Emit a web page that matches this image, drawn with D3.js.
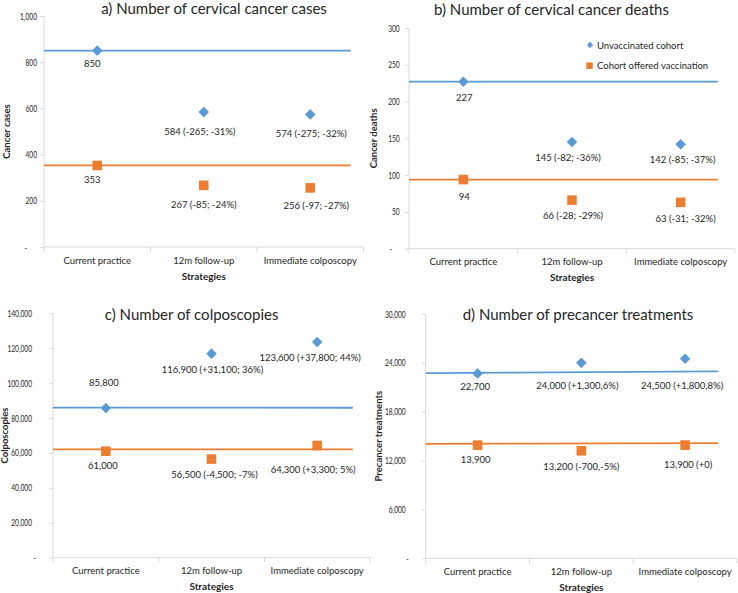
<!DOCTYPE html>
<html><head><meta charset="utf-8">
<script src="https://cdn.jsdelivr.net/npm/d3@7"></script>
<style>
body{margin:0;background:#fff}
svg{display:block}
text{font-family: Lato, "Open Sans", sans-serif; fill:#262626}
</style>
</head><body>
<svg id="chart" width="738" height="593"></svg>
<script>
// ---------------- DATA ----------------
const categories = ["Current practice", "12m follow-up", "Immediate colposcopy"];
const seriesNames = ["Unvaccinated cohort", "Cohort offered vaccination"];

const casesUnvacc = [850, 584, 574];
const casesVacc = [353, 267, 256];
const casesUnvaccLabels = ["850", "584 (-265; -31%)", "574 (-275; -32%)"];
const casesVaccLabels = ["353", "267 (-85; -24%)", "256 (-97; -27%)"];
const casesRefUnvacc = [850, 850];
const casesRefVacc = [353, 353];
const casesTicks = [0, 200, 400, 600, 800, 1000];

const deathsUnvacc = [227, 145, 142];
const deathsVacc = [94, 66, 63];
const deathsUnvaccLabels = ["227", "145 (-82; -36%)", "142 (-85; -37%)"];
const deathsVaccLabels = ["94", "66 (-28; -29%)", "63 (-31; -32%)"];
const deathsRefUnvacc = [227, 227];
const deathsRefVacc = [94, 94];
const deathsTicks = [0, 50, 100, 150, 200, 250, 300];

const colpUnvacc = [85800, 116900, 123600];
const colpVacc = [61000, 56500, 64300];
const colpUnvaccLabels = ["85,800", "116,900 (+31,100; 36%)", "123,600 (+37,800; 44%)"];
const colpVaccLabels = ["61,000", "56,500 (-4,500; -7%)", "64,300 (+3,300; 5%)"];
const colpRefUnvacc = [86000, 85900];
const colpRefVacc = [62100, 62100];
const colpTicks = [0, 20000, 40000, 60000, 80000, 100000, 120000, 140000];

const treatUnvacc = [22700, 24000, 24500];
const treatVacc = [13900, 13200, 13900];
const treatUnvaccLabels = ["22,700", "24,000 (+1,300,6%)", "24,500 (+1,800,8%)"];
const treatVaccLabels = ["13,900", "13,200 (-700,-5%)", "13,900 (+0)"];
const treatRefUnvacc = [22750, 22950];
const treatRefVacc = [14050, 14150];
const treatTicks = [0, 6000, 12000, 18000, 24000, 30000];

// ---------------- LAYOUT ----------------
const BLUE = "#5b9bd5", ORANGE = "#ed7d31", AXIS = "#d9d9d9";
const FONT_TITLE = 15, FONT_TICK = 9.5, TICK_SX = 0.7, FONT_LABEL = 9.5, FONT_CAT = 9.5,
      FONT_XTITLE = 10, FONT_YTITLE = 9.5;

const panels = [
  { title: "a) Number of cervical cancer cases", yTitle: "Cancer cases",
    unv: casesUnvacc, vac: casesVacc, unvL: casesUnvaccLabels, vacL: casesVaccLabels,
    refU: casesRefUnvacc, refV: casesRefVacc, ticks: casesTicks,
    x0: 44, x1: 363.5, yTop: 16, yBot: 247, lineFrac: 0.96, tickGap: 7,
    titleX: 214, titleY: 8, yTitleX: 6,
    offU: [[-5, 13], [-4, 19], [1, 19]], offV: [[-5, 14], [0, 19], [6, 18]] },
  { title: "b) Number of cervical cancer deaths", yTitle: "Cancer deaths",
    unv: deathsUnvacc, vac: deathsVacc, unvL: deathsUnvaccLabels, vacL: deathsVaccLabels,
    refU: deathsRefUnvacc, refV: deathsRefVacc, ticks: deathsTicks,
    x0: 409, x1: 735, yTop: 28, yBot: 248.7, lineFrac: 0.947, tickGap: 9.3,
    titleX: 551.5, titleY: 8.5, yTitleX: 373, legend: true,
    offU: [[1, 15.5], [-4, 15], [2, 15]], offV: [[1, 17], [1, 15.7], [5, 15.7]] },
  { title: "c) Number of colposcopies", yTitle: "Colposcopies",
    unv: colpUnvacc, vac: colpVacc, unvL: colpUnvaccLabels, vacL: colpVaccLabels,
    refU: colpRefUnvacc, refV: colpRefVacc, ticks: colpTicks,
    x0: 53, x1: 370, yTop: 313.3, yBot: 557.7, lineFrac: 0.946, tickGap: 21,
    titleX: 191.7, titleY: 313.5, yTitleX: 4.5,
    offU: [[-2, -25], [1, 16.3], [-7, 15.6]], offV: [[-3, 14.3], [3, 15], [-4, 24.3]] },
  { title: "d) Number of precancer treatments", yTitle: "Precancer treatments",
    unv: treatUnvacc, vac: treatVacc, unvL: treatUnvaccLabels, vacL: treatVaccLabels,
    refU: treatRefUnvacc, refV: treatRefVacc, ticks: treatTicks,
    x0: 425.7, x1: 737, yTop: 314, yBot: 558.3, lineFrac: 0.939, tickGap: 20,
    titleX: 578, titleY: 313.5, yTitleX: 378,
    offU: [[-2.5, 13], [-4, 22.3], [-3, 27]], offV: [[-2, 14], [0, 15.7], [3, 19]] }
];

const svg = d3.select("#chart");
const fmt = d3.format(",");

panels.forEach(p => {
  const g = svg.append("g");
  const x = d3.scaleBand().domain(categories).range([p.x0, p.x1]).padding(0);
  const y = d3.scaleLinear().domain([0, d3.max(p.ticks)]).range([p.yBot, p.yTop]);

  // y axis
  const yAxis = d3.axisLeft(y).tickValues(p.ticks).tickSize(4)
    .tickFormat(d => d === 0 ? "-" : fmt(d));
  const ya = g.append("g").attr("transform", `translate(${p.x0},0)`).call(yAxis);
  ya.select(".domain").attr("stroke", AXIS).attr("d", `M0,${p.yBot}V${p.yTop}`);
  ya.selectAll(".tick line").attr("stroke", AXIS);
  ya.selectAll(".tick text").attr("font-size", FONT_TICK).attr("font-family", "Lato")
    .attr("fill", "#262626")
    .attr("transform", `scale(${TICK_SX},1)`)
    .attr("x", d => (d === 0 ? -17 : -p.tickGap) / TICK_SX);

  // x axis
  const xAxis = d3.axisBottom(x).tickSize(0);
  const xa = g.append("g").attr("transform", `translate(0,${p.yBot})`).call(xAxis);
  xa.select(".domain").attr("stroke", AXIS).attr("d", `M${p.x0},0H${p.x1}`);
  xa.selectAll(".tick text").attr("font-size", FONT_CAT).attr("font-family", "Lato")
    .attr("fill", "#262626").attr("dy", null).attr("y", 13.3).attr("dominant-baseline", "central");
  // category boundary ticks
  const bounds = categories.map(c => x(c)).concat([p.x1]);
  g.selectAll(".bt").data(bounds).enter().append("line")
    .attr("x1", d => d).attr("x2", d => d).attr("y1", p.yBot).attr("y2", p.yBot + 5)
    .attr("stroke", AXIS);

  // reference lines
  const lx1 = p.x0 + (p.x1 - p.x0) * p.lineFrac;
  [[p.refU, BLUE], [p.refV, ORANGE]].forEach(([r, col]) => {
    g.append("line").attr("x1", p.x0).attr("x2", lx1)
      .attr("y1", y(r[0])).attr("y2", y(r[1]))
      .attr("stroke", col).attr("stroke-width", 1.8);
  });

  const cx = c => x(c) + x.bandwidth() / 2;

  // markers
  g.selectAll(".dm").data(p.unv).enter().append("path")
    .attr("d", d3.symbol().type(d3.symbolSquare).size(56)())
    .attr("transform", (d, i) => `translate(${cx(categories[i])},${y(d)}) rotate(45)`)
    .attr("fill", BLUE);
  g.selectAll(".sq").data(p.vac).enter().append("path")
    .attr("d", d3.symbol().type(d3.symbolSquare).size(92)())
    .attr("transform", (d, i) => `translate(${cx(categories[i])},${y(d)})`)
    .attr("fill", ORANGE);

  // data labels
  const lab = (vals, labels, offs) => {
    g.selectAll(null).data(vals).enter().append("text")
      .attr("x", (d, i) => cx(categories[i]) + offs[i][0])
      .attr("y", (d, i) => y(d) + offs[i][1])
      .attr("text-anchor", "middle").attr("dominant-baseline", "central")
      .attr("font-size", FONT_LABEL)
      .text((d, i) => labels[i]);
  };
  lab(p.unv, p.unvL, p.offU);
  lab(p.vac, p.vacL, p.offV);

  // titles
  g.append("text").attr("x", p.titleX).attr("y", p.titleY)
    .attr("text-anchor", "middle").attr("dominant-baseline", "central")
    .attr("font-size", FONT_TITLE).text(p.title);
  g.append("text").attr("x", (p.x0 + p.x1) / 2).attr("y", p.yBot + 28.7)
    .attr("text-anchor", "middle").attr("dominant-baseline", "central")
    .attr("font-size", FONT_XTITLE).attr("font-weight", "bold").text("Strategies");
  g.append("text")
    .attr("transform", `translate(${p.yTitleX},${(p.yTop + p.yBot) / 2}) rotate(-90)`)
    .attr("text-anchor", "middle").attr("dominant-baseline", "central")
    .attr("font-size", FONT_YTITLE).attr("font-weight", "bold").text(p.yTitle);

  // legend
  if (p.legend) {
    const lg = g.append("g").attr("transform", "translate(590,45)");
    lg.append("path").attr("d", d3.symbol().type(d3.symbolSquare).size(20)())
      .attr("transform", "rotate(45)").attr("fill", BLUE);
    lg.append("text").attr("x", 7).attr("y", 0).attr("dominant-baseline", "central")
      .attr("font-size", FONT_LABEL).text(seriesNames[0]);
    lg.append("path").attr("d", d3.symbol().type(d3.symbolSquare).size(42)())
      .attr("transform", "translate(-0.5,20.7)").attr("fill", ORANGE);
    lg.append("text").attr("x", 7).attr("y", 20.7).attr("dominant-baseline", "central")
      .attr("font-size", FONT_LABEL).text(seriesNames[1]);
  }
});
</script>
</body></html>
